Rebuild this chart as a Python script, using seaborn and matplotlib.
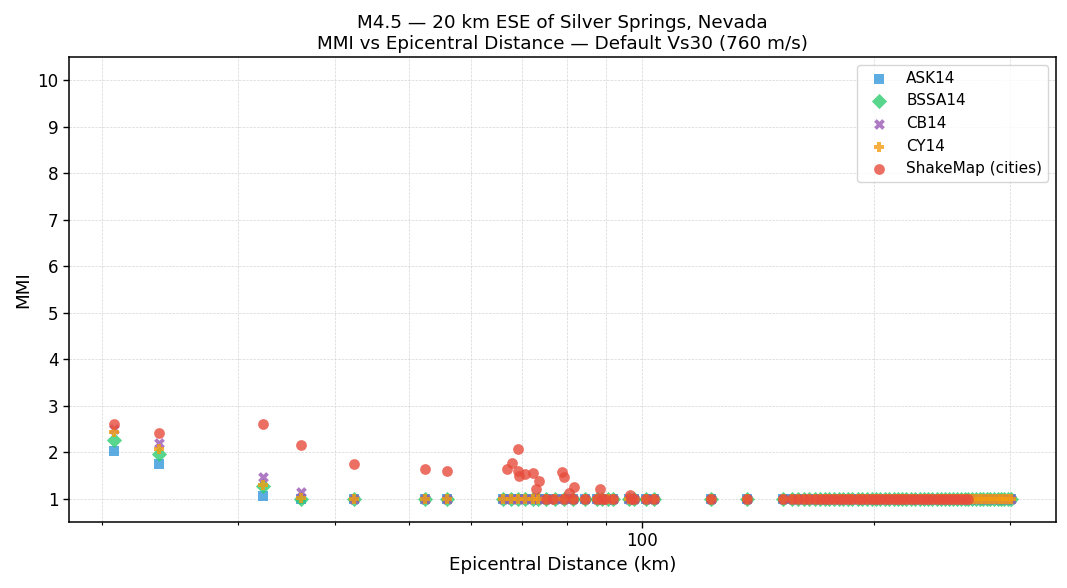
import numpy as np
import pandas as pd
import matplotlib
matplotlib.use("Agg")
import matplotlib.pyplot as plt
from matplotlib.ticker import ScalarFormatter, NullFormatter
import seaborn as sns

# ---- data ----
model_dist = [20.7, 23.7, 32.3, 36.2, 42.4, 52.4, 55.9,
              66.1, 67.7, 69.1, 70.5, 72.2, 73.3, 75.1, 77.1, 79.2, 81.4, 84.4,
              87.4, 88.9, 90.4, 91.7, 96.2, 97.7, 101.2, 103.6, 122.8, 136.8, 152.3,
              156.5, 159.5, 162.0, 164.5, 167.5, 170.0, 172.5, 175.0, 177.5, 180.0,
              182.5, 185.0, 187.5, 190.5, 193.0, 195.5, 198.5, 201.0, 203.5, 206.5,
              209.0, 212.0, 214.5, 217.5, 220.0, 223.0, 226.0, 229.0, 232.0, 235.0,
              238.0, 241.0, 244.0, 247.0, 250.0, 253.0, 256.0, 259.0, 262.0, 265.0,
              268.0, 271.0, 274.0, 277.0, 280.0, 283.0, 286.0, 289.0, 292.0, 295.0,
              298.0, 301.0]
n_far = len(model_dist) - 7
ask14 = [2.03, 1.75, 1.05, 1.00, 1.00, 1.00, 1.00] + [1.0] * n_far
bssa14 = [2.27, 1.97, 1.28, 1.00, 1.00, 1.00, 1.00] + [1.0] * n_far
cb14 = [2.50, 2.21, 1.46, 1.15, 1.00, 1.00, 1.00] + [1.0] * n_far
cy14 = [2.43, 2.07, 1.30, 1.02, 1.00, 1.00, 1.00] + [1.0] * n_far

sm_dist = [20.7, 23.7, 32.3, 36.2, 42.4, 52.4, 55.9,
           66.9, 67.9, 69.1, 69.1, 69.3, 70.5, 72.2, 73.5, 72.9, 78.8, 79.2,
           81.6, 80.4, 88.2, 96.5,
           75.1, 76.7, 79.2, 81.4, 84.4, 87.4, 88.9, 89.5, 91.7, 96.8, 97.7,
           101.2, 103.6, 122.8, 136.8, 152.3,
           156.5, 159.5, 162.0, 164.5, 167.5, 170.0, 172.5, 175.0, 177.5, 180.0,
           182.5, 185.0, 187.5, 190.5, 193.0, 195.5, 198.5, 201.0, 203.5, 206.5,
           209.0, 212.0, 214.5, 217.5, 220.0, 223.0, 226.0, 229.0, 232.0, 235.0,
           238.0, 241.0, 244.0, 247.0, 250.0, 253.0, 256.0, 259.0, 262.0, 265.0]
sm_mmi = [2.61, 2.42, 2.60, 2.16, 1.75, 1.65, 1.60,
          1.65, 1.78, 2.06, 1.60, 1.50, 1.54, 1.56, 1.39, 1.20, 1.58, 1.46,
          1.26, 1.13, 1.22, 1.08] + [1.0] * (len(sm_dist) - 22)

series = [
    ("ASK14", model_dist, ask14, "#3498db", "s"),
    ("BSSA14", model_dist, bssa14, "#2ecc71", "D"),
    ("CB14", model_dist, cb14, "#9b59b6", "X"),
    ("CY14", model_dist, cy14, "#f39c12", "P"),
    ("ShakeMap (cities)", sm_dist, sm_mmi, "#e74c3c", "o"),
]

sns.set_theme(context="notebook", style="ticks")
plt.rcParams['font.family'] = ['DejaVu Sans']
plt.rcParams.update({"text.color": "black", "axes.labelcolor": "black",
                     "xtick.color": "black", "ytick.color": "black",
                     "axes.edgecolor": "black"})

fig, ax = plt.subplots(figsize=(10.67, 5.88), dpi=100)
for name, xs, ys, col, mk in series:
    df = pd.DataFrame({"dist": xs, "mmi": ys})
    sns.scatterplot(data=df, x="dist", y="mmi", ax=ax, color=col, marker=mk,
                    s=60, alpha=0.8, linewidth=0, label=name)

ax.set_xscale("log")
ax.xaxis.set_major_formatter(ScalarFormatter())
ax.xaxis.set_minor_formatter(NullFormatter())
ax.set_ylim(0.5, 10.5)
ax.set_yticks(range(1, 11))
ax.grid(True, which="both", linestyle="--", linewidth=0.5, color="#cccccc", alpha=0.8)
ax.set_axisbelow(True)
for sp in ax.spines.values():
    sp.set_visible(True)
    sp.set_color("black")
    sp.set_linewidth(1.1)
ax.set_xlabel("Epicentral Distance (km)", fontsize=13.2)
ax.set_ylabel("MMI", fontsize=13.2)
ax.set_title("M4.5 — 20 km ESE of Silver Springs, Nevada\nMMI vs Epicentral Distance — Default Vs30 (760 m/s)",
             fontsize=13.2)
ax.tick_params(which="major", labelsize=12.1, length=4, width=1)
ax.tick_params(which="minor", length=2.5, width=0.8)
ax.legend(loc="upper right", fontsize=11, frameon=True)
fig.subplots_adjust(left=0.0647, right=0.9897, top=0.9031, bottom=0.1122)
fig.savefig("out.png", dpi=100)
